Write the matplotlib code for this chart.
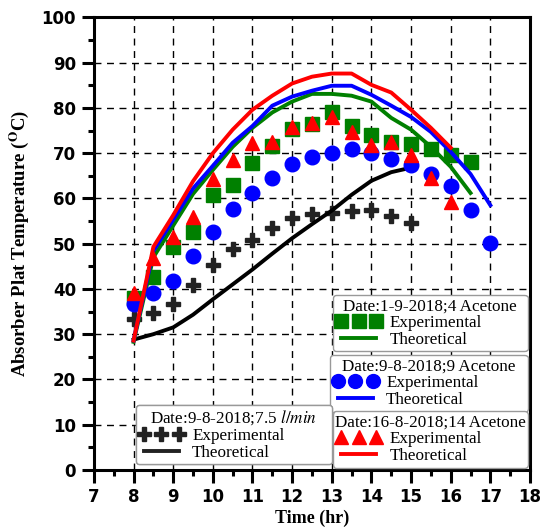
import matplotlib
matplotlib.use('Agg')
import matplotlib.pyplot as plt
from matplotlib.lines import Line2D

# --- data ---
hours = [8, 8.5, 9, 9.5, 10, 10.5, 11, 11.5, 12, 12.5, 13, 13.5, 14, 14.5, 15, 15.5, 16, 16.5, 17]

# 9-8-2018, 7.5 l/min
flow_exp = [33.3, 34.6, 36.6, 40.8, 45.2, 48.8, 50.8, 53.5, 55.7, 56.5, 56.8, 57.2, 57.4, 56.1, 54.6]
flow_th = [28.8, 30.0, 31.5, 34.3, 37.7, 41.0, 44.3, 47.8, 51.2, 54.3, 57.3, 60.8, 63.9, 65.8, 66.8]

# 1-9-2018, 4 acetone
ac4_exp = [38.1, 42.6, 49.2, 52.5, 60.7, 63.0, 67.9, 71.6, 75.4, 76.5, 79.1, 76.1, 74.1, 72.5, 72.1, 71.0, 69.6, 68.0]
ac4_th = [28.3, 47.0, 54.0, 61.0, 66.3, 71.4, 75.6, 79.0, 81.4, 83.1, 83.1, 82.7, 81.4, 77.8, 75.2, 71.4, 67.0, 61.2]

# 9-8-2018, 9 acetone
ac9_exp = [36.6, 39.0, 41.7, 47.2, 52.5, 57.6, 61.2, 64.6, 67.6, 69.2, 70.1, 70.9, 70.1, 68.7, 67.4, 65.4, 62.7, 57.4, 50.1]
ac9_th = [28.6, 48.4, 55.3, 62.2, 67.2, 72.3, 76.0, 80.5, 82.5, 83.8, 84.9, 84.9, 82.9, 80.5, 78.0, 74.7, 70.3, 65.4, 58.5]

# 16-8-2018, 14 acetone
ac14_exp = [39.0, 46.8, 51.4, 55.9, 64.3, 68.5, 72.3, 72.5, 75.8, 76.7, 78.0, 74.7, 71.8, 72.5, 69.6, 64.5, 59.2]
ac14_th = [28.6, 49.3, 56.3, 63.8, 70.0, 75.2, 79.6, 82.7, 85.4, 86.9, 87.6, 87.6, 85.1, 83.4, 79.6, 75.6, 71.2]

plt.rcParams['font.family'] = ['Liberation Serif', 'DejaVu Serif']
plt.rcParams['mathtext.fontset'] = 'stix'

fig = plt.figure(figsize=(5.43, 5.28), dpi=100)
ax = fig.add_axes([0.173, 0.11, 0.803, 0.857])

lw = 2.8
black = '#222222'
green = '#008000'
blue = '#0000ff'
red = '#ff0000'

# black set
ax.plot(hours[:len(flow_exp)], flow_exp, 'P', color=black, ms=10.5, ls='none')
ax.plot(hours[:len(flow_th)], flow_th, '-', color='k', lw=lw)
# green set
ax.plot(hours[:len(ac4_exp)], ac4_exp, 's', color=green, ms=10, ls='none')
ax.plot(hours[:len(ac4_th)], ac4_th, '-', color=green, lw=lw)
# blue set
ax.plot(hours[:len(ac9_exp)], ac9_exp, 'o', color=blue, ms=10.5, ls='none')
ax.plot(hours[:len(ac9_th)], ac9_th, '-', color=blue, lw=lw)
# red set
ax.plot(hours[:len(ac14_exp)], ac14_exp, '^', color=red, ms=10.5, ls='none')
ax.plot(hours[:len(ac14_th)], ac14_th, '-', color=red, lw=lw)

ax.set_xlim(7, 18)
ax.set_ylim(0, 100)
ax.set_xticks(range(7, 19))
ax.set_yticks(range(0, 101, 10))
ax.set_xticks([x + 0.5 for x in range(7, 18)], minor=True)
ax.set_yticks(range(5, 100, 10), minor=True)
ax.grid(True, which='major', color='k', ls=(0, (5, 4)), lw=1)
ax.set_axisbelow(True)

for s in ax.spines.values():
    s.set_linewidth(2.2)
ax.tick_params(which='major', direction='out', length=9, width=2.2, pad=4)
ax.tick_params(which='minor', direction='out', length=4.5, width=2.2)
ax.tick_params(top=False, right=False)
for lab in ax.get_xticklabels() + ax.get_yticklabels():
    lab.set_fontfamily('DejaVu Sans')
    lab.set_fontweight('bold')
    lab.set_fontsize(12)

ax.set_xlabel('Time (hr)', fontsize=13, fontweight='bold')
ax.xaxis.set_label_coords(0.5, -0.088)
ax.set_ylabel('Absorber Plat Temperature ($^{\\mathbf{O}}$C)', fontsize=13.5, fontweight='bold')
ax.yaxis.set_label_coords(-0.145, 0.5)

# --- legends ---
def add_leg(marker, mcolor, msize, title, box):
    h = [Line2D([], [], marker=marker, color=mcolor, ls='none', ms=msize),
         Line2D([], [], color=mcolor, lw=lw)]
    leg = ax.legend(h, ['Experimental', 'Theoretical'], title=title, loc='upper left',
                    bbox_to_anchor=box, mode='expand', borderaxespad=0, numpoints=3,
                    fontsize=12.3, title_fontsize=12.3, handlelength=2.6,
                    handletextpad=0.5, labelspacing=0.05, borderpad=0.2,
                    fancybox=True, edgecolor='#999999', framealpha=1)
    leg.get_frame().set_linewidth(1)
    ax.add_artist(leg)
    return leg

add_leg('s', green, 9.5, 'Date:1-9-2018;4 Acetone', (0.548, 0.387, 0.447, 0))
add_leg('o', blue, 10, 'Date:9-8-2018;9 Acetone', (0.541, 0.254, 0.454, 0))
add_leg('^', red, 10, 'Date:16-8-2018;14 Acetone', (0.548, 0.130, 0.447, 0))
add_leg('P', black, 9.5, 'Date:9-8-2018;7.5 $\\mathit{l/min}$', (0.096, 0.144, 0.45, 0))

fig.savefig('out.png', dpi=100)
